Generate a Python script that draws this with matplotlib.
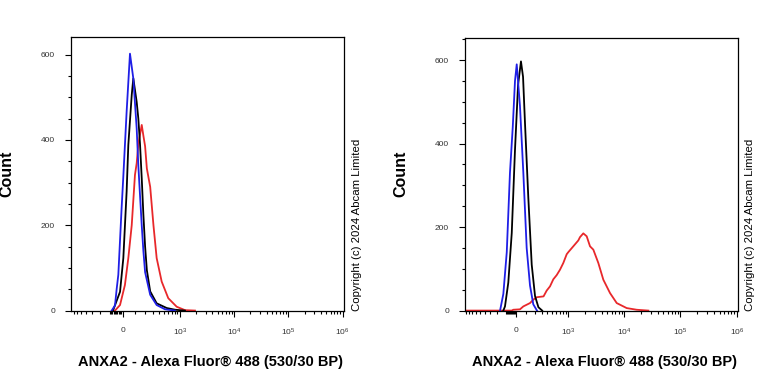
import numpy as np
import matplotlib.pyplot as plt

plt.rcParams['font.family'] = ['Liberation Sans', 'DejaVu Sans']
plt.rcParams['mathtext.fontset'] = 'custom'
plt.rcParams['mathtext.rm'] = 'Liberation Sans'
plt.rcParams['mathtext.it'] = 'Liberation Sans'

# ---- data (fluorescence intensity vs count) ----
left_blue_x = [-86, -59, -46, -33, -8, 5, 30, 56, 83, 112, 127, 143, 160, 177, 196, 258, 355, 520, 808]
left_blue_y = [0, 12, 50, 84, 240, 315, 466, 602, 544, 427, 340, 270, 200, 140, 90, 37, 13, 3, 0]

left_black_x = [-75, -20, 5, 30, 43, 70, 83, 112, 127, 143, 160, 177, 196, 216, 258, 355, 561, 808, 1242]
left_black_y = [0, 44, 123, 279, 388, 505, 544, 489, 450, 390, 310, 225, 150, 95, 45, 17, 6, 2, 0]

left_red_x = [-59, -20, 17, 43, 70, 97, 112, 127, 160, 177, 196, 216, 258, 304, 355, 448, 602, 870, 1242, 1905]
left_red_y = [0, 13, 60, 123, 200, 318, 345, 390, 435, 410, 385, 333, 290, 200, 123, 68, 29, 9, 1, 0]

right_blue_x = [-168, -130, -93, -60, -32, -10, 7, 39, 73, 108, 145, 184, 232]
right_blue_y = [0, 40, 140, 330, 440, 550, 590, 490, 330, 150, 60, 15, 0]

right_black_x = [-130, -112, -77, -42, -10, 20, 49, 70, 90, 126, 165, 206, 252, 309]
right_black_y = [0, 10, 67, 186, 385, 540, 597, 560, 450, 270, 110, 35, 8, 0]

right_red_x = [-900, -42, -27, 39, 73, 145, 184, 229, 331, 387, 452, 526, 611, 706, 813, 939, 1005,
               1239, 1524, 1635, 1875, 2155, 2470, 2830, 3475, 4265, 5610, 7380, 11100, 16700, 26900]
right_red_y = [0, 0, 2, 3, 10, 18, 26, 32, 34, 48, 58, 75, 85, 98, 114, 135, 140,
               154, 168, 176, 185, 178, 154, 146, 114, 74, 42, 18, 6, 2, 0]

x_ticks = [0, 1e3, 1e4, 1e5, 1e6]
x_ticklabels = ['0', r'$10^3$', r'$10^4$', r'$10^5$', r'$10^6$']
y_ticks = [0, 200, 400, 600]

xlabel = 'ANXA2 - Alexa Fluor® 488 (530/30 BP)'
copyright_txt = 'Copyright (c) 2024 Abcam Limited'

blue = '#1f1fe6'
red = '#e8282b'


def biex(c):
    # arcsinh display, like a flow cytometry biexponential axis
    fwd = lambda x: np.arcsinh(np.asarray(x, dtype=float) / c) / np.log(10)
    inv = lambda y: c * np.sinh(np.asarray(y, dtype=float) * np.log(10))
    return fwd, inv


minor = []
for k in [1, 2]:
    for m in range(1, 10):
        minor.append(-m * 10 ** k)
for k in [2, 3, 4, 5]:
    for m in range(1, 10):
        if not (m == 1 and k >= 3):
            minor.append(m * 10 ** k)

fig = plt.figure(figsize=(7.68, 3.84), dpi=100)
ax1 = fig.add_axes([0.0924, 0.1901, 0.3555, 0.7135])
ax2 = fig.add_axes([0.6055, 0.1901, 0.3550, 0.7109])

panels = [
    (ax1, 178, (-787, 1.057e6), 641, left_blue_x, left_blue_y, left_black_x, left_black_y, left_red_x, left_red_y),
    (ax2, 240, (-951, 1.039e6), 653, right_blue_x, right_blue_y, right_black_x, right_black_y, right_red_x, right_red_y),
]

for ax, c, xl, ytop, bx, by, kx, ky, rx, ry in panels:
    ax.set_xscale('function', functions=biex(c))
    ax.plot(rx, ry, color=red, lw=1.3)
    ax.plot(kx, ky, color='black', lw=1.3)
    ax.plot(bx, by, color=blue, lw=1.3)
    ax.set_xlim(*xl)
    ax.set_ylim(-1, ytop)

    ax.set_xticks(x_ticks)
    ax.set_xticklabels(x_ticklabels)
    ax.set_xticks([m for m in minor if xl[0] < m < xl[1]], minor=True)
    ax.set_xticklabels([], minor=True)
    ax.set_yticks(y_ticks)
    ax.set_yticks(np.arange(0, ytop, 50), minor=True)

    ax.tick_params(which='both', direction='out', width=0.8, colors='black',
                   labelsize=6, labelcolor='#333333', top=False, right=False)
    ax.tick_params(which='major', length=4.5, pad=7)
    ax.tick_params(which='minor', length=2.5)
    for s in ax.spines.values():
        s.set_linewidth(0.9)

    ax.set_ylabel('Count', fontsize=11.5, fontweight='bold')
    ax.yaxis.set_label_coords(-0.209, 0.502)
    ax.set_xlabel(xlabel, fontsize=10.5, fontweight='bold')
    ax.xaxis.set_label_coords(0.51, -0.162)

    ax.text(1.047, 0.0, copyright_txt, transform=ax.transAxes, rotation=90,
            ha='center', va='bottom', fontsize=8.2, color='black')

fig.savefig('out.png', dpi=100)
